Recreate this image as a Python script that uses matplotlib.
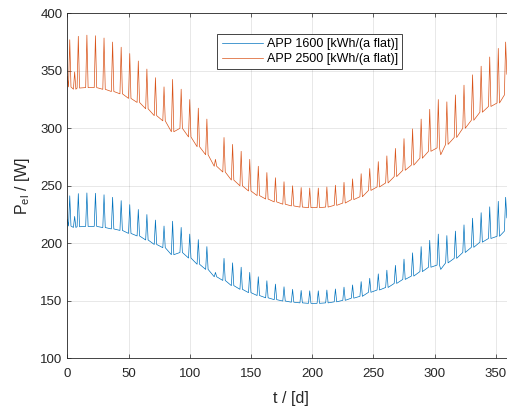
import matplotlib
matplotlib.use("Agg")
import matplotlib.pyplot as plt

plt.rcParams["font.family"] = ["Liberation Sans", "DejaVu Sans"]

# weekly spike days
spike_days = [2, 9, 16, 23, 30, 37, 44, 51, 58, 65, 72, 79, 86, 93, 100, 107, 114,
              121, 128, 135, 142, 149, 156, 163, 170, 177, 184, 191, 198, 205, 212,
              219, 226, 233, 240, 247, 254, 261, 268, 275, 282, 289, 296, 303, 310,
              317, 324, 331, 338, 345, 352, 358]

# APP 2500: spike tops and the trough just before each spike
app2500_peak = [377, 380, 381, 380.5, 378.5, 375, 370.5, 365, 358.5, 351.5, 344, 336,
                342.5, 334, 325, 317.5, 308, 273, 292, 286, 280, 273, 267, 261.5, 257,
                253.5, 250, 248.5, 248, 248, 249, 250.5, 253, 256, 260.5, 265, 271, 276,
                282.5, 291, 299.5, 308, 316.5, 325, 323, 329, 337.5, 346.5, 354, 362,
                369.5, 375]
app2500_low = [336, 335, 335.4, 335.4, 333.9, 332, 330, 326, 322.5, 317, 311, 306.5,
               297, 300, 292.5, 284, 277, 267, 262, 255, 250, 245.5, 241.5, 238.5, 236,
               234, 232.5, 231.5, 231, 231, 231.5, 233, 235, 238, 240.5, 246, 249,
               252.5, 258, 263.5, 268, 274, 280, 283, 286, 292, 300, 307, 314, 319,
               322, 329]

# APP 1600: spike tops and troughs
app1600_peak = [241.3, 243.2, 243.8, 243.5, 242.2, 240, 237.1, 233.6, 229.4, 225, 220.2,
                215, 219.2, 213.8, 208, 203.2, 197.1, 174.7, 186.9, 183, 179.2, 174.7,
                170.9, 167.4, 164.5, 162.2, 160, 159, 158.7, 158.7, 159.4, 160.3, 161.9,
                163.8, 166.7, 169.6, 173.4, 176.6, 180.8, 186.2, 191.7, 197.1, 202.6,
                208, 206.7, 210.6, 216, 221.8, 226.6, 231.7, 236.5, 240]
app1600_low = [215, 214.4, 214.7, 214.7, 213.7, 212.5, 211.2, 208.6, 206.4, 202.9, 199,
               196.2, 190.1, 192, 187.2, 181.8, 177.3, 170.9, 167.7, 163.2, 160, 157.1,
               154.6, 152.6, 151, 149.8, 148.8, 148.2, 147.8, 147.8, 148.2, 149.1, 150.4,
               152.3, 153.9, 157.4, 159.4, 161.6, 165.1, 168.6, 171.5, 175.4, 179.2,
               181.1, 183, 186.9, 192, 196.5, 201, 204.2, 206.1, 210.6]

# start / end of the series and single-day events
start_day = 0
app2500_start = 345
app1600_start = 220.8
end_day = 359
app2500_end = 347
app1600_end = 222.1
event_days = [5, 6, 7, 305]
app2500_event = [334, 349, 334, 277]
app1600_event = [213.8, 223.4, 213.8, 177.3]


def build_series(start_val, peaks, lows, events, end_val):
    pts = [(start_day, start_val)]
    n = len(spike_days)
    for i, (d, p, lo) in enumerate(zip(spike_days, peaks, lows)):
        pts.append((d - 1, lo))
        pts.append((d, p))
        if i < n - 1:
            pts.append((d + 1, lo))
    pts.append((end_day, end_val))
    pts += list(zip(event_days, events))
    pts.sort(key=lambda q: q[0])
    return [q[0] for q in pts], [q[1] for q in pts]


t1, y1 = build_series(app1600_start, app1600_peak, app1600_low, app1600_event, app1600_end)
t2, y2 = build_series(app2500_start, app2500_peak, app2500_low, app2500_event, app2500_end)

fig = plt.figure(figsize=(5.07, 4.08), dpi=100)
ax = fig.add_axes([67.3 / 507, 49.7 / 408, 446.9 / 507, 345 / 408])

ax.plot(t1, y1, color="#0072BD", linewidth=0.5, label="APP 1600 [kWh/(a flat)]")
ax.plot(t2, y2, color="#D95319", linewidth=0.5, label="APP 2500 [kWh/(a flat)]")

ax.set_xlim(0, 365)
ax.set_ylim(100, 400)
ax.set_xticks(range(0, 351, 50))
ax.set_yticks(range(100, 401, 50))
ax.grid(True, color="#262626", alpha=0.15, linewidth=0.5)
ax.tick_params(direction="in", length=3, width=0.5, colors="#262626",
               labelsize=9.5, top=True, right=False)
ax.tick_params(axis="x", pad=7)
for side in ["left", "bottom", "top"]:
    ax.spines[side].set_color("#262626")
    ax.spines[side].set_linewidth(0.6)
ax.spines["right"].set_visible(False)

ax.set_xlabel("t / [d]", fontsize=11.5, color="#262626", labelpad=8)
ax.set_ylabel(r"P$_\mathregular{el}$ / [W]", fontsize=11.5, color="#262626", labelpad=6)

leg = ax.legend(loc="upper left", bbox_to_anchor=(0.3357, 0.94), borderaxespad=0,
                fontsize=9, handlelength=3.3, handletextpad=0.3, labelspacing=0.2,
                borderpad=0.35, fancybox=False, framealpha=1)
leg.get_frame().set_edgecolor("#262626")
leg.get_frame().set_linewidth(0.6)

fig.savefig("out.png", dpi=100)
